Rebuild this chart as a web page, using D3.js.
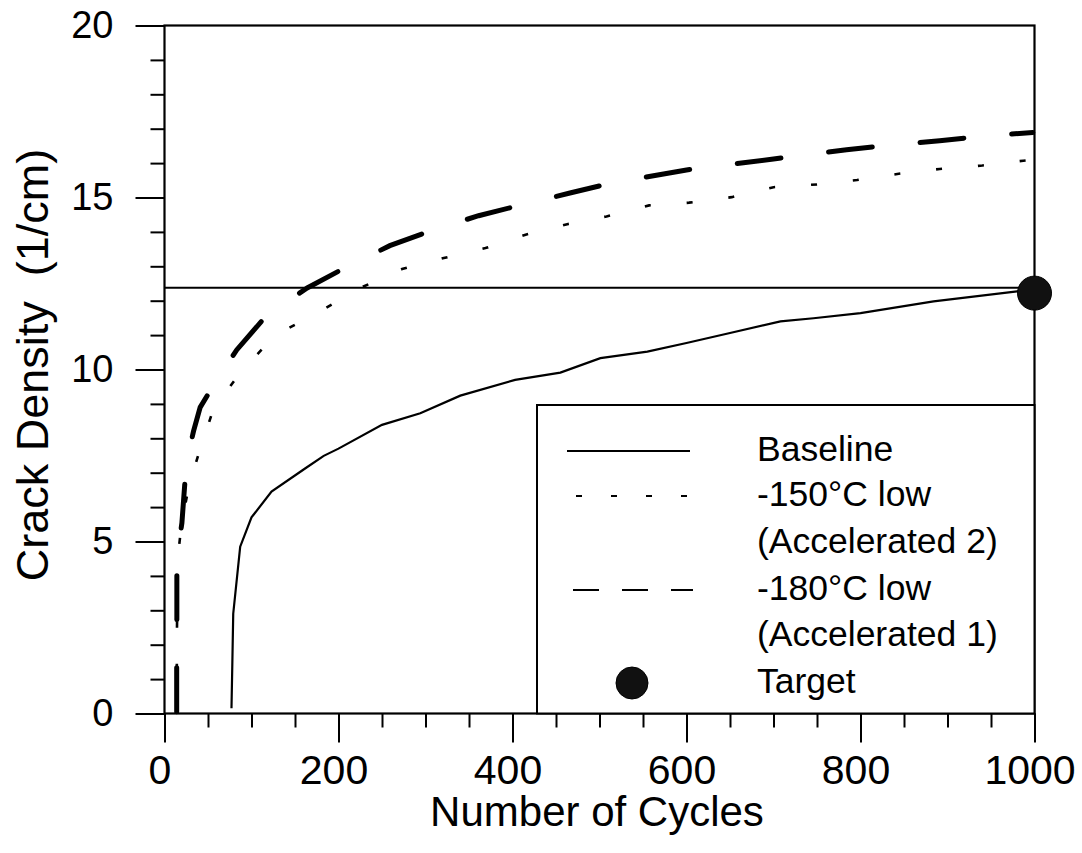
<!DOCTYPE html>
<html>
<head>
<meta charset="utf-8">
<script src="https://cdn.jsdelivr.net/npm/d3@7"></script>
<style>
  body { margin: 0; background: #fff; }
  text { font-family: "Liberation Sans", Arial, sans-serif; fill: #000; }
</style>
</head>
<body>
<svg id="chart" width="1082" height="853"></svg>
<script>
// data
var baseline = [[77,0.15],[78,1.5],[79,2.9],[87,4.85],[100,5.7],[123,6.45],[162,7.13],[183,7.49],[200,7.7],[250,8.39],[294,8.73],[340,9.24],[403,9.7],[455,9.91],[501,10.33],[555,10.52],[600,10.77],[650,11.06],[708,11.4],[746,11.49],[800,11.64],[884,11.98],[980,12.27],[1000,12.3]];
var low150 = [[14,0.05],[14.3,2.4],[15.4,4.56],[20,5.6],[28.7,6.68],[41.8,7.76],[56,8.83],[87,9.91],[127,10.99],[179,11.69],[225,12.37],[273,12.92],[321,13.24],[369,13.53],[415,13.92],[464,14.23],[508,14.45],[557,14.77],[603,14.85],[652,15.01],[700,15.3],[750,15.38],[796,15.51],[844,15.69],[891,15.83],[940,15.93],[987,16.07],[1000,16.1]];
var low180 = [[14,0.05],[14,1.4],[14.2,2.8],[14.2,4.1],[17,5],[20,5.54],[23.8,6.84],[28,7.6],[33.3,8.2],[41,8.9],[52.5,9.38],[83,10.57],[118,11.59],[164,12.37],[210,12.99],[259,13.6],[309,14.06],[361,14.47],[411,14.79],[466,15.13],[514,15.42],[600,15.8],[700,16.12],[784,16.39],[837,16.53],[891,16.65],[943,16.79],[998,16.89]];
var targetLevel = 12.38
var target = [1000, 12.22]
var xMajor = [0, 200, 400, 600, 800, 1000]
var yMajor = [0, 5, 10, 15, 20]
var legendNames = ["Baseline", "-150°C low", "(Accelerated 2)", "-180°C low", "(Accelerated 1)", "Target"]

function draw_chart()
{
    var svg = d3.select("#chart")
    var pLeft = 164.5, pRight = 1034.5, pTop = 25.5, pBottom = 713.5

    var x = d3.scaleLinear().domain([0, 1000]).range([pLeft, pRight])
    var y = d3.scaleLinear().domain([0, 20]).range([pBottom, pTop])

    // minor ticks
    svg.append("g").attr("transform", "translate(0," + pBottom + ")")
        .call(d3.axisBottom(x).tickValues(d3.range(0, 1001, 50)).tickSize(14).tickFormat(""))
        .call(function(g) { g.select(".domain").remove() })
        .selectAll("line").attr("stroke-width", 2)
    svg.append("g").attr("transform", "translate(" + pLeft + ",0)")
        .call(d3.axisLeft(y).tickValues(d3.range(0, 21, 1)).tickSize(14).tickFormat(""))
        .call(function(g) { g.select(".domain").remove() })
        .selectAll("line").attr("stroke-width", 2)

    // major ticks and labels
    var xa = svg.append("g").attr("transform", "translate(0," + pBottom + ")")
        .call(d3.axisBottom(x).tickValues(xMajor).tickSize(29).tickPadding(12).tickFormat(d3.format("d")))
    xa.select(".domain").remove()
    xa.selectAll("line").attr("stroke-width", 2)
    xa.selectAll("text").attr("font-size", 41).attr("dx", -5).attr("dy", "0.72em")
        .style("font-family", "'Liberation Sans', Arial, sans-serif")

    var ya = svg.append("g").attr("transform", "translate(" + pLeft + ",0)")
        .call(d3.axisLeft(y).tickValues(yMajor).tickSize(29).tickPadding(22))
    ya.select(".domain").remove()
    ya.selectAll("line").attr("stroke-width", 2)
    ya.selectAll("text").attr("font-size", 38)
        .style("font-family", "'Liberation Sans', Arial, sans-serif")

    // frame
    svg.append("rect")
        .attr("x", pLeft).attr("y", pTop)
        .attr("width", pRight - pLeft).attr("height", pBottom - pTop)
        .attr("fill", "none").attr("stroke", "#000").attr("stroke-width", 2.2)

    // target level line
    svg.append("line")
        .attr("x1", x(0)).attr("x2", x(1000))
        .attr("y1", y(targetLevel)).attr("y2", y(targetLevel))
        .attr("stroke", "#000").attr("stroke-width", 2)

    var line = d3.line()
        .x(function(d) { return x(d[0]) })
        .y(function(d) { return y(d[1]) })

    svg.append("path").datum(baseline)
        .attr("d", line).attr("fill", "none")
        .attr("stroke", "#000").attr("stroke-width", 2.2)

    svg.append("path").datum(low150)
        .attr("d", line).attr("fill", "none")
        .attr("stroke", "#000").attr("stroke-width", 2.6)
        .attr("stroke-dasharray", "6,36")

    svg.append("path").datum(low180)
        .attr("d", line).attr("fill", "none")
        .attr("stroke", "#000").attr("stroke-width", 5)
        .attr("stroke-linecap", "round")
        .attr("stroke-dasharray", "44,48")

    // legend
    var lg = svg.append("g")
    lg.append("rect")
        .attr("x", 537).attr("y", 405)
        .attr("width", pRight - 537).attr("height", pBottom - 405)
        .attr("fill", "#fff").attr("stroke", "#000").attr("stroke-width", 2)

    var rowY = [451, 496, 543, 590, 636, 683]
    lg.selectAll("text.item").data(legendNames).enter()
        .append("text").attr("class", "item")
        .attr("x", 757).attr("y", function(d, i) { return rowY[i] + 10 })
        .attr("font-size", 35.5)
        .text(function(d) { return d })

    lg.append("line").attr("x1", 567).attr("x2", 690)
        .attr("y1", rowY[0]).attr("y2", rowY[0])
        .attr("stroke", "#000").attr("stroke-width", 2)
    lg.append("line").attr("x1", 576).attr("x2", 690)
        .attr("y1", rowY[1]).attr("y2", rowY[1])
        .attr("stroke", "#000").attr("stroke-width", 2)
        .attr("stroke-dasharray", "6,29")
    lg.append("line").attr("x1", 573).attr("x2", 693)
        .attr("y1", rowY[3]).attr("y2", rowY[3])
        .attr("stroke", "#000").attr("stroke-width", 2)
        .attr("stroke-dasharray", "26,23")
    lg.append("circle").attr("cx", 632).attr("cy", rowY[5]).attr("r", 16)
        .attr("fill", "#111").attr("stroke", "#000")

    // target point
    svg.append("circle")
        .attr("cx", x(target[0])).attr("cy", y(target[1])).attr("r", 17)
        .attr("fill", "#111").attr("stroke", "#000")

    // axis titles
    svg.append("text")
        .attr("x", 597).attr("y", 826)
        .attr("text-anchor", "middle").attr("font-size", 42)
        .text("Number of Cycles")

    svg.append("text")
        .attr("transform", "translate(48,365) rotate(-90)")
        .attr("text-anchor", "middle").attr("font-size", 45)
        .style("white-space", "pre")
        .text("Crack Density  (1/cm)")
}

draw_chart()
</script>
</body>
</html>
